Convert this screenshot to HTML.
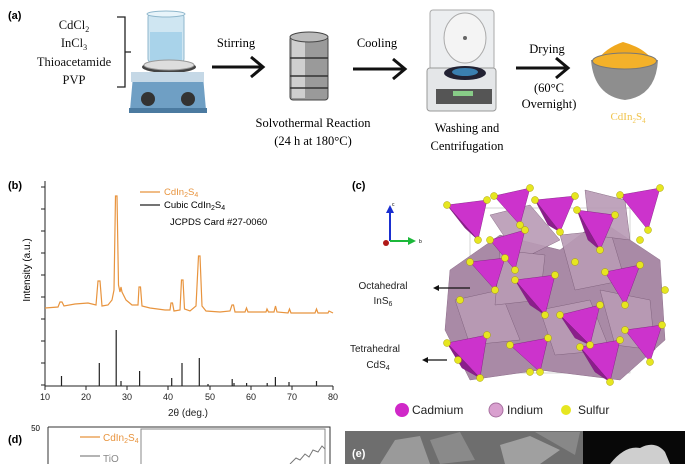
<!DOCTYPE html>
<html><head><meta charset="utf-8"><style>
body{margin:0;background:#fff;}
svg{display:block;}
.s{font-family:"Liberation Serif",serif;}
.a{font-family:"Liberation Sans",sans-serif;}
</style></head><body>
<svg width="695" height="464" viewBox="0 0 695 464" xmlns="http://www.w3.org/2000/svg">
<!-- Panel a -->
<text x="8" y="19" class="a" font-size="11" font-weight="bold">(a)</text>
<g class="s" font-size="12.5" text-anchor="middle" fill="#111">
<text x="74" y="29">CdCl<tspan font-size="8" dy="3">2</tspan></text>
<text x="74" y="47">InCl<tspan font-size="8" dy="3">3</tspan></text>
<text x="74" y="66">Thioacetamide</text>
<text x="74" y="84">PVP</text>
</g>
<path d="M117,17 H125 V87 H117 M125,52 H131" stroke="#222" stroke-width="1.3" fill="none"/>
<!-- stirrer -->
<rect x="148" y="14" width="36" height="48" rx="3" fill="#cfe6f2" stroke="#8fb7cc"/>
<rect x="150" y="32" width="32" height="29" fill="#a9d3ea"/>
<ellipse cx="166" cy="14" rx="19" ry="3" fill="#e8f4fa" stroke="#8fb7cc"/>
<ellipse cx="169" cy="67" rx="27" ry="6" fill="#444"/>
<ellipse cx="169" cy="65" rx="25" ry="5" fill="#ddd" stroke="#999"/>
<path d="M133,76 H203 L206,110 H130 Z" fill="#6f9fc4"/>
<rect x="131" y="72" width="73" height="10" fill="#c5d8e6"/>
<circle cx="148" cy="99" r="7" fill="#333"/><circle cx="188" cy="99" r="7" fill="#333"/>
<rect x="129" y="108" width="78" height="5" fill="#4b7aa0"/>
<text x="236" y="47" class="s" font-size="12.5" text-anchor="middle">Stirring</text>
<path d="M212,67 H261 M251,57 L263,67 L251,77" stroke="#111" stroke-width="3" fill="none"/>
<!-- autoclave -->
<rect x="290" y="36" width="38" height="64" rx="3" fill="#9a9a9a" stroke="#444"/>
<rect x="292" y="39" width="13" height="59" fill="#cfcfcf"/>
<ellipse cx="309" cy="37" rx="19" ry="5" fill="#bbb" stroke="#444"/>
<path d="M290,58 H328 M290,76 H328 M290,88 H328" stroke="#333" stroke-width="1.5"/>
<text x="313" y="127" class="s" font-size="12.5" text-anchor="middle">Solvothermal Reaction</text>
<text x="313" y="145" class="s" font-size="12.5" text-anchor="middle">(24 h at 180°C)</text>
<text x="377" y="47" class="s" font-size="12.5" text-anchor="middle">Cooling</text>
<path d="M353,69 H403 M393,59 L405,69 L393,79" stroke="#111" stroke-width="3" fill="none"/>
<!-- centrifuge -->
<rect x="430" y="10" width="64" height="60" rx="3" fill="#eceef0" stroke="#aaa"/>
<ellipse cx="465" cy="38" rx="21" ry="25" fill="#f4f4f4" stroke="#aaa"/>
<circle cx="465" cy="38" r="2" fill="#666"/>
<rect x="427" y="68" width="69" height="43" rx="3" fill="#e4e6e8" stroke="#999"/>
<ellipse cx="465" cy="73" rx="21" ry="7" fill="#223"/>
<ellipse cx="465" cy="72" rx="13" ry="4" fill="#3a7fb0"/>
<rect x="436" y="89" width="56" height="15" fill="#555"/>
<rect x="453" y="91" width="20" height="5" fill="#8c8"/>
<text x="467" y="132" class="s" font-size="12.5" text-anchor="middle">Washing and</text>
<text x="467" y="150" class="s" font-size="12.5" text-anchor="middle">Centrifugation</text>
<text x="547" y="53" class="s" font-size="12.5" text-anchor="middle">Drying</text>
<path d="M516,68 H566 M556,58 L568,68 L556,78" stroke="#111" stroke-width="3" fill="none"/>
<text x="549" y="92" class="s" font-size="12.5" text-anchor="middle">(60°C</text>
<text x="549" y="108" class="s" font-size="12.5" text-anchor="middle">Overnight)</text>
<!-- bowl -->
<path d="M596,62 Q605,48 623,42 Q645,48 654,62 Z" fill="#f0a81e"/>
<path d="M591,60 H658 Q656,96 625,100 Q594,96 591,60 Z" fill="#8e8e8e"/>
<ellipse cx="624.5" cy="61" rx="32" ry="8" fill="#f3b12a" stroke="#777"/>
<text x="628" y="120" class="s" font-size="11" text-anchor="middle" fill="#f0c34a">CdIn<tspan font-size="7" dy="3">2</tspan><tspan dy="-3">S</tspan><tspan font-size="7" dy="3">4</tspan></text>

<!-- Panel b -->
<text x="8" y="189" class="a" font-size="11" font-weight="bold">(b)</text>
<path d="M45,181 V386 H333" stroke="#222" stroke-width="1" fill="none"/>
<g stroke="#222" stroke-width="1">
<path d="M41,187H45M41,209H45M41,231H45M41,253H45M41,275H45M41,297H45M41,319H45M41,341H45M41,363H45M41,385H45"/>
<path d="M45,386V390M86,386V390M127,386V390M168,386V390M210,386V390M251,386V390M292,386V390M333,386V390"/>
</g>
<g class="a" font-size="9" text-anchor="middle" fill="#222">
<text x="45" y="400">10</text><text x="86" y="400">20</text><text x="127" y="400">30</text><text x="168" y="400">40</text><text x="210" y="400">50</text><text x="251" y="400">60</text><text x="292" y="400">70</text><text x="333" y="400">80</text>
<text x="188" y="416" font-size="10">2θ (deg.)</text>
</g>
<text x="30" y="270" class="a" font-size="10" text-anchor="middle" transform="rotate(-90 30 270)">Intensity (a.u.)</text>
<path d="M45,308 L58,307 L60,302 L62,302 L64,306 L75,304 L88,303 L96,305 L98,281 L100,281 L102,306 L108,305 L112,300 L114,290 L115.5,196 L117,196 L118.5,285 L120,292 L121,287 L122,292 L126,300 L132,305 L138,305 L139,287 L140.5,287 L142,306 L150,308 L165,310 L170,310 L171,303 L172.5,303 L174,311 L180,310 L181.5,280 L183,280 L184.5,309 L190,311 L196,306 L198.5,256 L200,256 L202,306 L206,311 L220,312 L230,311 L232,305 L233.5,305 L235,312 L245,312 L246.5,308 L248,312 L266,312 L267,309 L268.5,312 L274,312 L275.5,306 L277,312 L288,313 L289.5,309 L291,313 L315,313 L316.5,309 L318,313 L328,313 L329,311 L333,313" stroke="#e8943e" stroke-width="1.2" fill="none"/>
<path d="M61.5,386V376M99.3,386V363M116.2,386V330M121,386V381M139.6,386V371M171.7,386V378M182,386V363M199.3,386V358M232.2,386V379M234,386V383M246.6,386V383M267.2,386V383M275.4,386V377M289,386V382M316.5,386V381M208,386V384" stroke="#222" stroke-width="1.2"/>
<path d="M140,192 H160" stroke="#e8943e" stroke-width="1.2"/>
<text x="164" y="195" class="a" font-size="9.5" fill="#e8943e">CdIn<tspan font-size="7" dy="2">2</tspan><tspan dy="-2">S</tspan><tspan font-size="7" dy="2">4</tspan></text>
<path d="M140,205 H160" stroke="#222" stroke-width="1.2"/>
<text x="164" y="208" class="a" font-size="9.5">Cubic CdIn<tspan font-size="7" dy="2">2</tspan><tspan dy="-2">S</tspan><tspan font-size="7" dy="2">4</tspan></text>
<text x="170" y="225" class="a" font-size="9.5">JCPDS Card #27-0060</text>

<!-- Panel d -->
<text x="8" y="443" class="a" font-size="11" font-weight="bold">(d)</text>
<text x="40" y="431" class="a" font-size="8" text-anchor="end">50</text>
<path d="M48,427 V464 M48,427 H330 V464" stroke="#333" fill="none"/>
<rect x="141" y="429" width="184" height="40" fill="none" stroke="#888"/>
<path d="M80,437 H100" stroke="#e8943e" stroke-width="1.2"/>
<text x="103" y="441" class="a" font-size="10" fill="#e8943e">CdIn<tspan font-size="7" dy="2">2</tspan><tspan dy="-2">S</tspan><tspan font-size="7" dy="2">4</tspan></text>
<path d="M80,456 H100" stroke="#888" stroke-width="1.2"/>
<text x="103" y="462" class="a" font-size="10" fill="#888">TiO</text>
<path d="M290,464 L296,458 L300,460 L305,454 L309,457 L313,450 L318,452 L322,446 L325,449" stroke="#777" fill="none"/>

<!-- Panel c -->
<text x="352" y="189" class="a" font-size="11" font-weight="bold">(c)</text>
<path d="M390,241 V211" stroke="#1a2fd0" stroke-width="2"/><path d="M386,213 L390,205 L394,213Z" fill="#1a2fd0"/>
<path d="M390,241 H410" stroke="#1cb83a" stroke-width="2"/><path d="M408,237 L416,241 L408,245Z" fill="#1cb83a"/>
<circle cx="386" cy="243" r="3" fill="#b01818"/>
<text x="392" y="206" font-size="5" class="a">c</text><text x="419" y="243" font-size="5" class="a">b</text>
<rect x="470" y="208" width="160" height="165" fill="none" stroke="#bbb" stroke-width="0.6"/>
<g fill="#a98aa6" stroke="#8d6e8a" stroke-width="0.5">
<polygon points="450,270 500,235 560,250 600,220 660,260 665,340 620,380 540,370 470,380 445,330"/>
</g>
<g fill="#b99bb5" stroke="#7d5f7a" stroke-width="0.5" opacity="0.9">
<polygon points="490,215 530,205 560,240 520,260"/>
<polygon points="560,235 610,230 625,280 575,290"/>
<polygon points="455,300 500,290 520,340 470,345"/>
<polygon points="540,310 590,300 610,350 555,355"/>
<polygon points="600,290 650,300 655,350 615,345"/>
<polygon points="500,250 545,255 540,300 495,305"/>
<polygon points="585,190 625,200 630,240 590,235"/>
</g>
<g stroke="#7a1a7a" stroke-width="0.4">
<g fill="#cc33cc">
<polygon points="447,205 487,200 478,240"/><polygon points="494,196 530,188 520,225"/>
<polygon points="535,200 575,196 560,232"/><polygon points="577,210 615,215 600,250"/>
<polygon points="620,195 660,188 648,230"/><polygon points="490,240 525,230 515,270"/>
<polygon points="470,262 505,258 495,290"/><polygon points="515,280 555,275 545,315"/>
<polygon points="605,272 640,265 625,305"/><polygon points="560,315 600,305 590,345"/>
<polygon points="447,343 487,335 480,378"/><polygon points="510,345 548,338 540,372"/>
<polygon points="580,347 620,340 610,382"/><polygon points="625,330 662,325 650,362"/>
</g>
<g fill="#8a1f8a">
<polygon points="447,205 478,240 465,228"/><polygon points="535,200 560,232 548,225"/>
<polygon points="577,210 600,250 588,240"/><polygon points="515,280 545,315 530,305"/>
<polygon points="447,343 480,378 462,368"/><polygon points="580,347 610,382 595,372"/>
<polygon points="560,315 590,345 575,338"/>
</g>
</g>
<g fill="#e6e620" stroke="#a8a000" stroke-width="0.5">
<circle cx="447" cy="205" r="3.5"/><circle cx="487" cy="200" r="3.5"/><circle cx="478" cy="240" r="3.5"/>
<circle cx="494" cy="196" r="3.5"/><circle cx="530" cy="188" r="3.5"/><circle cx="520" cy="225" r="3.5"/>
<circle cx="535" cy="200" r="3.5"/><circle cx="575" cy="196" r="3.5"/><circle cx="560" cy="232" r="3.5"/>
<circle cx="577" cy="210" r="3.5"/><circle cx="615" cy="215" r="3.5"/><circle cx="600" cy="250" r="3.5"/>
<circle cx="620" cy="195" r="3.5"/><circle cx="660" cy="188" r="3.5"/><circle cx="648" cy="230" r="3.5"/>
<circle cx="490" cy="240" r="3.5"/><circle cx="525" cy="230" r="3.5"/><circle cx="515" cy="270" r="3.5"/>
<circle cx="470" cy="262" r="3.5"/><circle cx="505" cy="258" r="3.5"/><circle cx="495" cy="290" r="3.5"/>
<circle cx="515" cy="280" r="3.5"/><circle cx="555" cy="275" r="3.5"/><circle cx="545" cy="315" r="3.5"/>
<circle cx="605" cy="272" r="3.5"/><circle cx="640" cy="265" r="3.5"/><circle cx="625" cy="305" r="3.5"/>
<circle cx="560" cy="315" r="3.5"/><circle cx="600" cy="305" r="3.5"/><circle cx="590" cy="345" r="3.5"/>
<circle cx="447" cy="343" r="3.5"/><circle cx="487" cy="335" r="3.5"/><circle cx="480" cy="378" r="3.5"/>
<circle cx="510" cy="345" r="3.5"/><circle cx="548" cy="338" r="3.5"/><circle cx="540" cy="372" r="3.5"/>
<circle cx="580" cy="347" r="3.5"/><circle cx="620" cy="340" r="3.5"/><circle cx="610" cy="382" r="3.5"/>
<circle cx="625" cy="330" r="3.5"/><circle cx="662" cy="325" r="3.5"/><circle cx="650" cy="362" r="3.5"/>
<circle cx="460" cy="300" r="3.5"/><circle cx="458" cy="360" r="3.5"/><circle cx="665" cy="290" r="3.5"/>
<circle cx="640" cy="240" r="3.5"/><circle cx="575" cy="262" r="3.5"/><circle cx="530" cy="372" r="3.5"/>
</g>
<g class="a" font-size="10" text-anchor="middle" fill="#222">
<text x="383" y="289">Octahedral</text><text x="383" y="304">InS<tspan font-size="7" dy="2">6</tspan></text>
<text x="375" y="352">Tetrahedral</text><text x="378" y="368">CdS<tspan font-size="7" dy="2">4</tspan></text>
</g>
<path d="M470,288 H437" stroke="#111" stroke-width="1.2"/><path d="M439,285 L433,288 L439,291Z" fill="#111"/>
<path d="M447,360 H426" stroke="#111" stroke-width="1.2"/><path d="M428,357 L422,360 L428,363Z" fill="#111"/>
<circle cx="402" cy="410" r="7" fill="#d028c8"/>
<circle cx="496" cy="410" r="7" fill="#d9a0cf" stroke="#a870a0"/>
<circle cx="566" cy="410" r="5" fill="#e6e620"/>
<g class="a" font-size="12" fill="#222">
<text x="412" y="414">Cadmium</text><text x="507" y="414">Indium</text><text x="578" y="414">Sulfur</text>
</g>

<!-- Panel e -->
<rect x="345" y="431" width="238" height="33" fill="#6e6e6e"/>
<polygon points="380,464 395,440 420,436 430,464" fill="#9a9a9a"/>
<polygon points="430,440 460,432 475,460 440,464" fill="#8a8a8a"/>
<polygon points="500,445 530,436 560,450 540,464 505,464" fill="#a0a0a0"/>
<polygon points="535,432 580,432 575,455" fill="#888"/>
<rect x="583" y="431" width="102" height="33" fill="#080808"/>
<path d="M610,464 Q625,445 640,448 Q655,440 665,452 L670,464Z" fill="#cfcfcf"/>
<text x="352" y="457" class="a" font-size="11" font-weight="bold" fill="#fff">(e)</text>
</svg>
</body></html>
